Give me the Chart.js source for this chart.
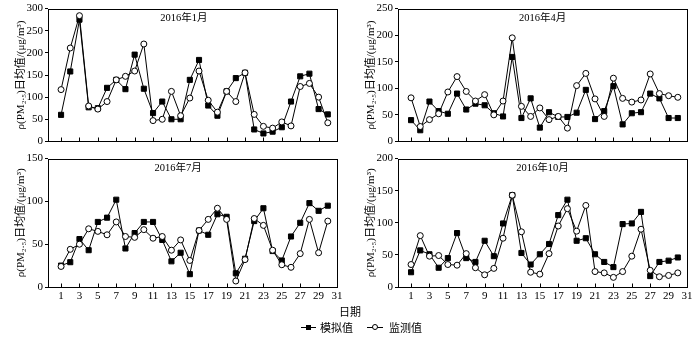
<!DOCTYPE html>
<html>
<head>
<meta charset="utf-8">
<script src="https://cdn.jsdelivr.net/npm/chart.js@4/dist/chart.umd.min.js"></script>
<style>
  html,body{margin:0;padding:0;background:#fff;}
  body{width:700px;height:337px;position:relative;overflow:hidden;font-family:"Liberation Serif","Noto Sans CJK SC",serif;color:#000;}
  canvas{position:absolute;}
  .txt{position:absolute;font-family:"Noto Sans CJK SC","Liberation Serif",serif;font-size:11px;line-height:12px;white-space:nowrap;}
  .ln{position:absolute;height:0;border-top:1px solid #000;}
  .sq{position:absolute;width:5px;height:5px;background:#000;}
  .ci{position:absolute;width:4px;height:4px;border:1px solid #000;border-radius:50%;background:#fff;}
</style>
</head>
<body>
<canvas id="c0" width="350" height="150" style="left:0;top:0"></canvas>
<canvas id="c1" width="350" height="150" style="left:350px;top:0"></canvas>
<canvas id="c2" width="350" height="155" style="left:0;top:150px"></canvas>
<canvas id="c3" width="350" height="155" style="left:350px;top:150px"></canvas>

<div class="txt" style="left:339px;top:305px;">日期</div>

<div class="ln" style="left:301px;top:327px;width:15px;"></div>
<div class="sq" style="left:306px;top:325px;"></div>
<div class="txt" style="left:320px;top:321px;">模拟值</div>
<div class="ln" style="left:367px;top:327px;width:16px;"></div>
<div class="ci" style="left:372px;top:324px;"></div>
<div class="txt" style="left:389px;top:321px;">监测值</div>

<script>
// ---- data ----
const days = [1,2,3,4,5,6,7,8,9,10,11,12,13,14,15,16,17,18,19,20,21,22,23,24,25,26,27,28,29,30];
const xTickDays = [1,3,5,7,9,11,13,15,17,19,21,23,25,27,29,31];

const janSim = [60,158,275,77,75,121,139,118,196,119,64,90,50,50,139,184,81,58,113,143,155,27,18,22,32,90,147,153,73,61];
const janObs = [117,211,284,80,73,90,139,147,159,220,47,50,113,58,98,159,93,66,113,90,155,61,34,30,44,35,124,131,100,42];

const aprSim = [40,21,75,57,52,90,60,71,68,53,47,159,44,81,26,55,46,46,54,97,42,57,104,32,53,55,90,81,44,44];
const aprObs = [82,28,41,52,93,122,94,76,88,50,76,195,66,47,63,41,47,25,105,128,80,47,119,81,74,78,127,90,86,83];

const julSim = [25,29,56,43,76,81,102,45,63,76,76,55,30,40,15,66,61,85,82,16,33,77,92,42,31,59,75,98,89,95];
const julObs = [24,44,50,68,65,61,76,59,58,67,57,59,43,55,31,66,79,92,79,7,32,80,72,43,26,23,39,79,40,77];

const octSim = [23,57,51,30,45,84,45,39,72,48,99,143,53,35,51,67,112,136,72,76,51,39,31,98,99,117,17,39,41,46];
const octObs = [35,80,48,49,35,34,52,30,19,29,76,143,86,23,20,52,95,122,87,127,24,22,15,24,48,90,26,16,18,22];

const panelTitles = ["2016年1月","2016年4月","2016年7月","2016年10月"];
const yMax = [300,250,150,200];
const yTitle = "ρ(PM₂.₅)日均值/(μg/m³)";
const seriesNames = ["模拟值","监测值"];

// ---- drawing helpers ----
const serif = '"Liberation Serif","Noto Sans CJK SC",serif';

const framePlugin = {
  id: 'frame',
  afterDatasetsDraw(chart, args, opts) {
    const {ctx, chartArea: a, scales: {x}} = chart;
    ctx.save();
    ctx.strokeStyle = '#000';
    ctx.lineWidth = 1;
    const L = Math.round(a.left) + 0.5, T = Math.round(a.top) + 0.5;
    const R = Math.round(a.right) + 0.5, B = Math.round(a.bottom) + 0.5;
    ctx.strokeRect(L, T, R - L, B - T);
    x.ticks.forEach(t => {
      const px = Math.round(x.getPixelForValue(t.value)) + 0.5;
      ctx.beginPath();
      ctx.moveTo(px, B);
      ctx.lineTo(px, B - 4);
      ctx.stroke();
    });
    ctx.font = '10.5px ' + serif;
    ctx.fillStyle = '#000';
    ctx.textAlign = 'center';
    ctx.textBaseline = 'middle';
    ctx.fillText(opts.text, a.left + (a.right - a.left) * opts.fx, a.top + 10);
    ctx.restore();
  }
};

function makeChart(id, idx, sim, obs, showX, fx) {
  const bottomPanel = showX;
  const xH = bottomPanel ? 18 : 8;
  new Chart(document.getElementById(id), {
    type: 'line',
    data: {
      datasets: [
        {
          label: seriesNames[1],
          data: days.map((d, i) => ({x: d, y: obs[i]})),
          borderColor: '#000', borderWidth: 1,
          pointStyle: 'circle', pointRadius: 3, pointBorderWidth: 1,
          pointBackgroundColor: '#fff', pointBorderColor: '#000',
          tension: 0, order: 0
        },
        {
          label: seriesNames[0],
          data: days.map((d, i) => ({x: d, y: sim[i]})),
          borderColor: '#000', borderWidth: 1,
          pointStyle: 'rect', pointRadius: 3.6, pointBorderWidth: 1,
          pointBackgroundColor: '#000', pointBorderColor: '#000',
          tension: 0, order: 1
        }
      ]
    },
    options: {
      responsive: false,
      animation: false,
      devicePixelRatio: 1,
      layout: {padding: {top: bottomPanel ? 5 : 7, right: 13, left: 0, bottom: 0}},
      plugins: {
        legend: {display: false},
        tooltip: {enabled: false},
        frame: {text: panelTitles[idx], fx: fx}
      },
      scales: {
        x: {
          type: 'linear', min: -0.42, max: 31,
          afterBuildTicks: s => { s.ticks = xTickDays.map(v => ({value: v})); },
          afterFit: s => { s.height = xH; },
          grid: {display: false, drawTicks: false},
          border: {display: false},
          ticks: {
            display: showX, autoSkip: false, maxRotation: 0, padding: 3,
            color: '#000', font: {family: serif, size: 11}
          }
        },
        y: {
          min: 0, max: yMax[idx],
          afterFit: s => { s.width = 48; },
          grid: {display: true, drawOnChartArea: false, drawTicks: true, tickLength: 3, color: '#000'},
          border: {display: false},
          ticks: {stepSize: 50, padding: 2, color: '#000', font: {family: serif, size: 11}},
          title: {
            display: true, text: yTitle, color: '#000',
            font: {family: serif, size: 11},
            padding: {top: 15, bottom: 0}
          }
        }
      }
    },
    plugins: [framePlugin]
  });
}

makeChart('c0', 0, janSim, janObs, false, 0.47);
makeChart('c1', 1, aprSim, aprObs, false, 0.5);
makeChart('c2', 2, julSim, julObs, true, 0.45);
makeChart('c3', 3, octSim, octObs, true, 0.5);
</script>
</body>
</html>
